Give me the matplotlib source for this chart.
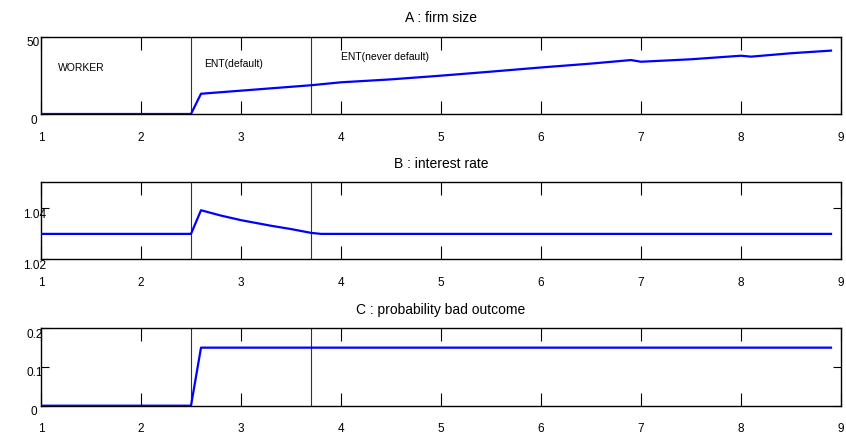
import matplotlib
matplotlib.use("Agg")
import matplotlib.pyplot as plt
import matplotlib.transforms as mtransforms

plt.rcParams['font.family'] = ['Liberation Sans', 'DejaVu Sans']

# ---- data ----
x_a = [1.0, 2.5, 2.6, 3.0, 3.7, 4.0, 4.5, 5.0, 5.5, 6.0, 6.5, 6.9, 7.0, 7.5, 8.0, 8.1, 8.5, 8.9]
firm_size = [0, 0, 13.1, 15.1, 18.6, 20.5, 22.4, 24.8, 27.4, 30.1, 32.6, 34.9, 33.8, 35.4, 37.7, 37.1, 39.3, 41.0]

x_b = [1.0, 2.5, 2.6, 2.8, 3.0, 3.3, 3.5, 3.7, 3.8, 8.9]
interest_rate = [1.030, 1.030, 1.0393, 1.0372, 1.0354, 1.0332, 1.0319, 1.0304, 1.030, 1.030]

x_c = [1.0, 2.5, 2.6, 8.9]
prob_bad = [0, 0, 0.15, 0.15]

titles = ["A : firm size", "B : interest rate", "C : probability bad outcome"]
xticks = [1, 2, 3, 4, 5, 6, 7, 8, 9]
yticks_a, yticklabels_a = [0, 50], ["0", "50"]
yticks_b, yticklabels_b = [1.02, 1.04], ["1.02", "1.04"]
yticks_c, yticklabels_c = [0, 0.1, 0.2], ["0", "0.1", "0.2"]
vlines = [2.5, 3.7]
region_labels = ["WORKER", "ENT(default)", "ENT(never default)"]
region_x = [1.17, 2.63, 4.0]
region_y = [30.4, 33.0, 37.7]

fig = plt.figure(figsize=(8.46, 4.39), dpi=100)
W, H = 846, 439
def rect(top, bottom):
    return [41 / W, 1 - bottom / H, 800 / W, (bottom - top) / H]

axA = fig.add_axes(rect(37.7, 115.0))
axB = fig.add_axes(rect(183.3, 260.3))
axC = fig.add_axes(rect(329.3, 406.7))

specs = [
    (axA, x_a, firm_size, (0, 50), yticks_a, yticklabels_a),
    (axB, x_b, interest_rate, (1.02, 1.0503), yticks_b, yticklabels_b),
    (axC, x_c, prob_bad, (0, 0.2), yticks_c, yticklabels_c),
]

for (ax, xs, ys, ylim, yt, ytl), title in zip(specs, titles):
    ax.plot(xs, ys, color=(0, 0, 1), lw=1.6, zorder=3)
    for v in vlines:
        ax.axvline(v, color='0.2', lw=0.8, zorder=2)
    ax.set_xlim(1, 9)
    ax.set_ylim(*ylim)
    ax.set_xticks(xticks)
    ax.set_xticklabels([str(t) for t in xticks])
    ax.set_yticks(yt)
    ax.set_yticklabels(ytl)
    ax.tick_params(axis='x', direction='in', top=True, bottom=True, length=9.5,
                   width=0.8, labelsize=8.5, pad=12)
    ax.tick_params(axis='y', direction='in', left=True, right=True, length=5.5,
                   width=0.8, labelsize=8.5, pad=3)
    for lab, txt in zip(ax.get_yticklabels(), ytl):
        shift = 3.2 * (len(txt) - 1)
        offset = mtransforms.ScaledTranslation(shift / 100, -4 / 100, fig.dpi_scale_trans)
        lab.set_transform(lab.get_transform() + offset)
    for s in ax.spines.values():
        s.set_linewidth(1.0)
        s.set_color('black')
    ax.set_title(title, fontsize=10, pad=11)

for lbl, lx, ly in zip(region_labels, region_x, region_y):
    axA.text(lx, ly, lbl, fontsize=7.5, ha='left', va='center')

fig.savefig("out.png", dpi=100)
